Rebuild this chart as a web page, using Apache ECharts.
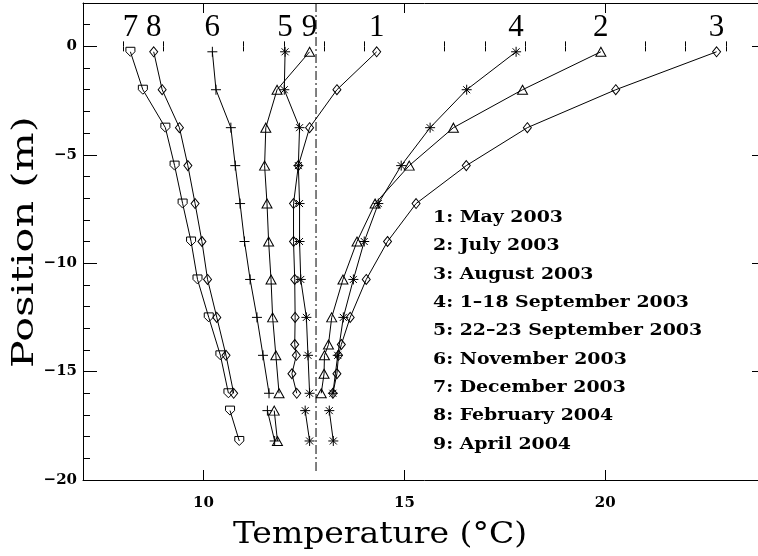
<!DOCTYPE html>
<html>
<head>
<meta charset="utf-8">
<script src="https://cdn.jsdelivr.net/npm/echarts@6/dist/echarts.min.js"></script>
<style>
  html, body { margin: 0; padding: 0; background: #fff; overflow: hidden; }
  /* the frame runs a little past the right edge of the page */
  #chart { width: 780px; height: 556px; }
</style>
</head>
<body>
<div id="chart"></div>
<script>
// Sampling depths (m) of the thermistor strings
const depthFine = [-0.25, -2.0, -3.75, -5.5, -7.25, -9.0, -10.75, -12.5, -13.75, -14.25, -15.1, -16.0];
const depthStd  = [-0.25, -2.0, -3.75, -5.5, -7.25, -9.0, -10.75, -12.5, -14.25, -16.0];
const depthDeep = [-16.8, -18.2];

// Temperature profiles (°C)
const tMay03  = [14.31, 13.32, 12.64, 12.36, 12.24, 12.24, 12.27, 12.28, 12.27, 12.31, 12.20, 12.32];
const tJul03  = [19.89, 17.94, 16.22, 15.12, 14.27, 13.82, 13.47, 13.19, 13.11, 13.01, 13.00, 12.93];
const tAug03  = [22.77, 20.26, 18.06, 16.54, 15.29, 14.58, 14.05, 13.65, 13.43, 13.36, 13.32, 13.22];
const tSepA03 = [17.78, 16.55, 15.64, 14.92, 14.35, 14.00, 13.73, 13.48, 13.34, 13.22];
const tSepA03Deep = [13.13, 13.23];
const tSepB03 = [12.03, 12.01, 12.39, 12.36, 12.39, 12.39, 12.42, 12.56, 12.60, 12.64];
const tSepB03Deep = [12.53, 12.64];
const tNov03  = [10.22, 10.31, 10.68, 10.79, 10.91, 11.02, 11.16, 11.33, 11.48, 11.63];
const tNov03Deep = [11.59, 11.77];
const tDec03  = [8.18, 8.49, 9.05, 9.28, 9.48, 9.69, 9.85, 10.13, 10.42, 10.62];
const tDec03Deep = [10.66, 10.89];
const tFeb04  = [8.76, 8.97, 9.40, 9.61, 9.79, 9.96, 10.10, 10.33, 10.56, 10.75];
const tApr04  = [12.64, 11.83, 11.55, 11.52, 11.58, 11.62, 11.68, 11.72, 11.80, 11.88];
const tApr04Deep = [11.76, 11.84];

const periodNames = ['May 2003', 'July 2003', 'August 2003', '1\u201318 September 2003',
  '22\u201323 September 2003', 'November 2003', 'December 2003', 'February 2004', 'April 2004'];

const xTitle = 'Temperature (\u00B0C)';
const yTitle = 'Position (m)';

// Reference temperature (dash-dot vertical line)
const refTemp = 12.8;
const refDepthRange = [2, -19.6];

// Axis ticks
const xRange = [7, 24];
const yRange = [-20, 2];
const xMajor = [10, 15, 20];
const xMinor = [8, 9, 11, 12, 13, 14, 16, 17, 18, 19, 21, 22, 23];
const yMajor = [0, -5, -10, -15, -20];
const yMinor = [1, -1, -2, -3, -4, -6, -7, -8, -9, -11, -12, -13, -14, -16, -17, -18, -19];

// Marker shapes
const SYM = {
  diamond: 'diamond',
  triangle: 'triangle',
  asterisk: 'path://M5,0L5,10M0,5L10,5M1.5,1.5L8.5,8.5M1.5,8.5L8.5,1.5',
  plus: 'path://M5,0L5,10M0,5L10,5',
  shield: 'path://M0,0L10,0L10,5L5,10L0,5Z'
};
const SIZE = { diamond: [8, 10], triangle: [10, 9], asterisk: 10, plus: 10, shield: [9, 9] };

const profiles = [
  { temps: tMay03,  depths: depthFine, sym: 'diamond' },
  { temps: tJul03,  depths: depthFine, sym: 'triangle' },
  { temps: tAug03,  depths: depthFine, sym: 'diamond' },
  { temps: tSepA03, depths: depthStd,  sym: 'asterisk', deep: tSepA03Deep },
  { temps: tSepB03, depths: depthStd,  sym: 'asterisk', deep: tSepB03Deep },
  { temps: tNov03,  depths: depthStd,  sym: 'plus',     deep: tNov03Deep },
  { temps: tDec03,  depths: depthStd,  sym: 'shield',   deep: tDec03Deep },
  { temps: tFeb04,  depths: depthStd,  sym: 'diamond' },
  { temps: tApr04,  depths: depthStd,  sym: 'triangle', deep: tApr04Deep }
];

const SERIF = '"DejaVu Serif", serif';
const BLACK = '#000';

function lineSeries(name, points, sym, tag) {
  return {
    type: 'line',
    name: name,
    xAxisIndex: 0,
    yAxisIndex: 0,
    symbol: SYM[sym],
    symbolSize: SIZE[sym],
    showAllSymbol: true,
    animation: false,
    silent: true,
    lineStyle: { color: BLACK, width: 1 },
    itemStyle: { color: 'rgba(0,0,0,0)', borderColor: BLACK, borderWidth: 1 },
    data: points.map((p, i) => (i === 0 && tag) ? {
      value: p,
      label: {
        show: true, position: 'top', distance: 3, formatter: tag,
        fontFamily: '"Liberation Serif", serif', fontSize: 31, color: BLACK
      }
    } : p)
  };
}

const series = [];
profiles.forEach((p, i) => {
  const upper = p.temps.map((t, k) => [t, p.depths[k]]);
  series.push(lineSeries(periodNames[i], upper, p.sym, String(i + 1)));
  if (p.deep) {
    const lower = p.deep.map((t, k) => [t, depthDeep[k]]);
    series.push(lineSeries(periodNames[i] + ' (deep)', lower, p.sym, null));
  }
});

series.push({
  type: 'line',
  name: 'reference',
  xAxisIndex: 0, yAxisIndex: 0,
  symbol: 'none',
  animation: false,
  silent: true,
  lineStyle: { color: BLACK, width: 1, type: [9, 3, 2, 3] },
  data: refDepthRange.map(d => [refTemp, d])
});

function axisBase(extra) {
  return Object.assign({
    type: 'value',
    splitLine: { show: false },
    axisLine: { show: false },
    axisLabel: { show: false },
    axisTick: { show: false }
  }, extra);
}

const tickStyle = { color: BLACK, width: 1 };
const minus = v => String(v).replace('-', '\u2212');
const tickFont = { color: BLACK, fontFamily: SERIF, fontWeight: 'bold', fontSize: 15 };

const xAxes = [
  axisBase({
    position: 'bottom', min: xRange[0], max: xRange[1],
    axisLine: { show: true, onZero: false, lineStyle: { color: BLACK, width: 1 } },
    axisTick: { show: true, inside: true, length: 10, customValues: xMajor, lineStyle: tickStyle },
    axisLabel: Object.assign({ show: true, customValues: xMajor, margin: 16 }, tickFont)
  }),
  axisBase({
    position: 'bottom', min: xRange[0], max: xRange[1],
    axisTick: { show: true, inside: true, length: 5, customValues: xMinor, lineStyle: tickStyle }
  }),
  axisBase({
    position: 'top', min: xRange[0], max: xRange[1],
    axisLine: { show: true, onZero: false, lineStyle: { color: BLACK, width: 1 } },
    axisTick: { show: true, inside: true, length: 10, customValues: xMajor, lineStyle: tickStyle }
  }),
  axisBase({
    position: 'top', min: xRange[0], max: xRange[1],
    axisTick: { show: true, inside: true, length: 5, customValues: xMinor, lineStyle: tickStyle }
  })
];

const yAxes = [
  axisBase({
    position: 'left', min: yRange[0], max: yRange[1],
    axisLine: { show: true, onZero: false, lineStyle: { color: BLACK, width: 1 } },
    axisTick: { show: true, inside: true, length: 14, customValues: yMajor, lineStyle: tickStyle },
    axisLabel: Object.assign({ show: true, customValues: yMajor, margin: 6, formatter: minus }, tickFont)
  }),
  axisBase({
    position: 'left', min: yRange[0], max: yRange[1],
    axisTick: { show: true, inside: true, length: 7, customValues: yMinor, lineStyle: tickStyle }
  }),
  axisBase({
    position: 'right', min: yRange[0], max: yRange[1],
    axisLine: { show: true, onZero: false, lineStyle: { color: BLACK, width: 1 } },
    axisTick: { show: true, inside: true, length: 14, customValues: yMajor, lineStyle: tickStyle }
  }),
  axisBase({
    position: 'right', min: yRange[0], max: yRange[1],
    axisTick: { show: true, inside: true, length: 7, customValues: yMinor, lineStyle: tickStyle }
  })
];

// Period key and axis titles (wide-set serif lettering)
const graphics = periodNames.map((name, i) => ({
  type: 'text',
  x: 433,
  y: 218 + i * 28.3,
  scaleX: 1.18,
  silent: true,
  style: {
    text: (i + 1) + ': ' + name,
    fill: BLACK,
    font: 'bold 16px "DejaVu Serif", serif',
    verticalAlign: 'middle'
  }
}));
graphics.push({
  type: 'text',
  x: 380, y: 535,
  scaleX: 1.1,
  silent: true,
  style: { text: xTitle, fill: BLACK, font: '30px "DejaVu Serif", serif', align: 'center', verticalAlign: 'middle' }
});
graphics.push({
  type: 'text',
  x: 25, y: 242,
  rotation: Math.PI / 2,
  scaleX: 1.38,
  silent: true,
  style: { text: yTitle, fill: BLACK, font: '30px "DejaVu Serif", serif', align: 'center', verticalAlign: 'middle' }
});

const chart = echarts.init(document.getElementById('chart'), null, { renderer: 'canvas' });
chart.setOption({
  backgroundColor: '#fff',
  animation: false,
  grid: { left: 83, top: 3, width: 683, height: 477, containLabel: false },
  xAxis: xAxes,
  yAxis: yAxes,
  series: series,
  graphic: graphics
});
</script>
</body>
</html>
